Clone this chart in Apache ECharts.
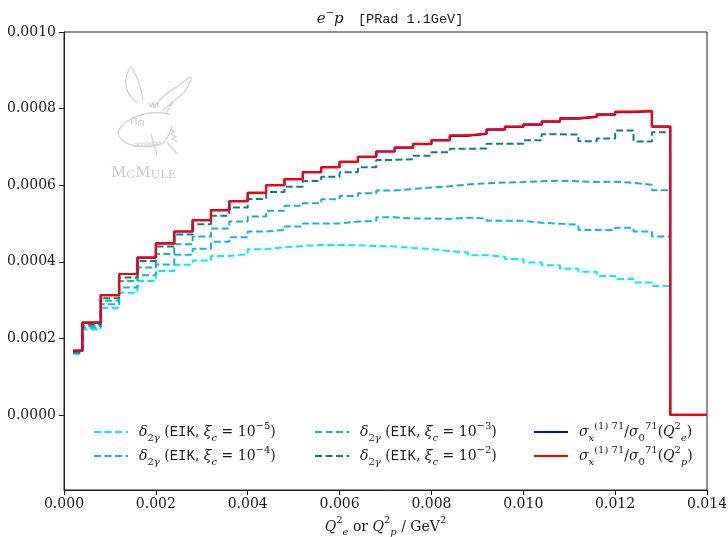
<!DOCTYPE html>
<html><head><meta charset="utf-8">
<script src="https://cdn.jsdelivr.net/npm/echarts@6/dist/echarts.min.js"></script>
<style>html,body{margin:0;padding:0;background:#fff}#c{width:728px;height:537px}</style>
</head><body><div id="c"></div>
<script>
// ---- data ----
const binEdges = [0.0002, 0.0004, 0.0008, 0.0012, 0.0016, 0.0020, 0.0024, 0.0028, 0.0032, 0.0036,
  0.0040, 0.0044, 0.0048, 0.0052, 0.0056, 0.0060, 0.0064, 0.0068, 0.0072, 0.0076,
  0.0080, 0.0084, 0.0088, 0.0092, 0.0096, 0.0100, 0.0104, 0.0108, 0.0112, 0.0116,
  0.0120, 0.0124, 0.0128, 0.0132];
const tailEdges = [0.0132, 0.0140];
const tailValues = [0];

const eik5 = [0.000160, 0.000223, 0.000279, 0.000319, 0.000350, 0.000376, 0.000392, 0.000403, 0.000415, 0.000420,
  0.000433, 0.000438, 0.000441, 0.000444, 0.000444, 0.000443, 0.000441, 0.000440, 0.000436, 0.000433,
  0.000428, 0.000424, 0.000417, 0.000413, 0.000407, 0.000398, 0.000391, 0.000382, 0.000374, 0.000363,
  0.000355, 0.000346, 0.000337];
const eik4 = [0.000161, 0.000228, 0.000289, 0.000333, 0.000365, 0.000393, 0.000418, 0.000434, 0.000452, 0.000464,
  0.000479, 0.000483, 0.000492, 0.000500, 0.000500, 0.000505, 0.000507, 0.000516, 0.000513, 0.000513,
  0.000512, 0.000515, 0.000513, 0.000507, 0.000507, 0.000502, 0.000499, 0.000497, 0.000483, 0.000483,
  0.000489, 0.000479, 0.000466];
const eik3 = [0.000162, 0.000232, 0.000298, 0.000350, 0.000385, 0.000420, 0.000446, 0.000466, 0.000487, 0.000505,
  0.000518, 0.000533, 0.000546, 0.000553, 0.000563, 0.000572, 0.000579, 0.000586, 0.000590, 0.000594,
  0.000597, 0.000602, 0.000605, 0.000607, 0.000608, 0.000610, 0.000612, 0.000610, 0.000608, 0.000609,
  0.000606, 0.000601, 0.000587];
const eik2 = [0.000164, 0.000236, 0.000305, 0.000359, 0.000402, 0.000440, 0.000471, 0.000498, 0.000520, 0.000542,
  0.000564, 0.000582, 0.000596, 0.000611, 0.000622, 0.000634, 0.000647, 0.000666, 0.000668, 0.000677,
  0.000686, 0.000695, 0.000696, 0.000708, 0.000708, 0.000717, 0.000733, 0.000732, 0.000715, 0.000722,
  0.000743, 0.000714, 0.000738];
const sigmaQe = [0.000168, 0.000241, 0.000313, 0.000368, 0.000411, 0.000448, 0.000479, 0.000509, 0.000535, 0.000558,
  0.000580, 0.000600, 0.000616, 0.000634, 0.000647, 0.000661, 0.000674, 0.000688, 0.000698, 0.000707,
  0.000717, 0.000729, 0.000734, 0.000745, 0.000752, 0.000758, 0.000766, 0.000774, 0.000778, 0.000784,
  0.000791, 0.000793, 0.000753];
const sigmaQp = [0.000168, 0.000241, 0.000313, 0.000368, 0.000411, 0.000448, 0.000479, 0.000509, 0.000535, 0.000558,
  0.000580, 0.000600, 0.000616, 0.000634, 0.000647, 0.000661, 0.000674, 0.000688, 0.000698, 0.000708,
  0.000718, 0.000730, 0.000735, 0.000746, 0.000753, 0.000759, 0.000767, 0.000775, 0.000779, 0.000785,
  0.000792, 0.000794, 0.000753];

const xTicks = [0, 0.002, 0.004, 0.006, 0.008, 0.010, 0.012, 0.014];
const yTicks = [0, 0.0002, 0.0004, 0.0006, 0.0008, 0.0010];

// ---- helpers ----
function stepPoints(edges, vals) {
  const p = vals.map((v, i) => [edges[i], v]);
  p.push([edges[edges.length - 1], vals[vals.length - 1]]);
  return p;
}
const serif = 'DejaVu Serif';
const mono = 'Liberation Mono';
const TXT = '#1a1a1a';

function dashed(name, vals, color) {
  return {
    name, type: 'line', step: 'end', data: stepPoints(binEdges, vals), symbol: 'none',
    lineStyle: { color, width: 2, type: [7, 3.5] }, itemStyle: { color }, z: 2, silent: true
  };
}
function solid(name, vals, color, z) {
  return {
    name, type: 'line', step: 'end',
    data: stepPoints(binEdges.concat(tailEdges.slice(1)), vals.concat(tailValues)), symbol: 'none',
    lineStyle: { color, width: 2.2 }, itemStyle: { color }, z, silent: true
  };
}

const rich = {
  it: { fontFamily: serif, fontStyle: 'italic', fontSize: 14, lineHeight: 22, color: TXT },
  tt: { fontFamily: mono, fontSize: 14, lineHeight: 22, color: TXT },
  sub: { fontFamily: serif, fontSize: 10, lineHeight: 13, verticalAlign: 'bottom', color: TXT },
  subit: { fontFamily: serif, fontStyle: 'italic', fontSize: 10, lineHeight: 13, verticalAlign: 'bottom', color: TXT },
  sup: { fontFamily: serif, fontSize: 10, lineHeight: 13, verticalAlign: 'top', color: TXT }
};
const labels = {
  x5: '{it|δ}{sub|2}{subit|γ} ({tt|EIK}, {it|ξ}{subit|c} = 10{sup|−5})',
  x4: '{it|δ}{sub|2}{subit|γ} ({tt|EIK}, {it|ξ}{subit|c} = 10{sup|−4})',
  x3: '{it|δ}{sub|2}{subit|γ} ({tt|EIK}, {it|ξ}{subit|c} = 10{sup|−3})',
  x2: '{it|δ}{sub|2}{subit|γ} ({tt|EIK}, {it|ξ}{subit|c} = 10{sup|−2})',
  qe: '{it|σ}{subit|x}{sup|(1) 71}/{it|σ}{sub|0}{sup|71}({it|Q}{sup|2}{subit|e})',
  qp: '{it|σ}{subit|x}{sup|(1) 71}/{it|σ}{sub|0}{sup|71}({it|Q}{sup|2}{subit|p})'
};
function legendAt(left, names) {
  return {
    left, top: 416, orient: 'vertical', itemWidth: 34, itemHeight: 14, itemGap: 2,
    data: names, formatter: n => labels[n], selectedMode: false,
    itemStyle: { opacity: 0, borderWidth: 0 },
    textStyle: { fontFamily: serif, fontSize: 14, lineHeight: 22, color: TXT, rich, padding: [0, 0, 0, 6] }
  };
}

const logoColor = '#d2d2d2';
const logoLines = [
  [[131,66],[126,78],[128,92],[137,103]],
  [[131,66],[137,78],[141,90],[143,100]],
  [[153,108],[165,95],[178,86],[191,77],[185,91],[174,101],[162,111]],
  [[149,103],[151,107],[153,103],[155,107],[157,103],[158,107]],
  [[170,114],[150,113],[131,119],[119,130],[122,140],[136,146],[152,146],[164,142],[172,126]],
  [[132,124],[132,119],[136,119],[136,124]],
  [[139,126],[139,121],[143,121],[143,126]],
  [[170,129],[174,132],[171,134],[176,137],[172,139],[178,142]],
  [[151,134],[157,155]],
  [[167,142],[177,154]],
  [[166,113],[173,102]]
];
const graphics = logoLines.map(pts => ({
  type: 'polyline', shape: { points: pts, smooth: pts.length > 3 && pts.length !== 6 ? 0.4 : 0 }, silent: true, z: 1,
  style: { fill: null, stroke: logoColor, lineWidth: 1.3 }
}));
for (let i = 0; i < 7; i++) {
  graphics.push({ type: 'circle', shape: { cx: 136 + i * 3.8, cy: 145 - i * 0.3, r: 1.5 }, silent: true, z: 1,
    style: { fill: null, stroke: logoColor, lineWidth: 1 } });
}
graphics.push({
  type: 'text', left: 111, top: 166, silent: true, z: 1,
  style: {
    text: '{b|M}{s|C}{b|M}{s|ULE}',
    rich: {
      b: { fontFamily: serif, fontSize: 15, fill: '#c9c9c9', verticalAlign: 'bottom', lineHeight: 18 },
      s: { fontFamily: serif, fontSize: 11.5, fill: '#c9c9c9', verticalAlign: 'bottom', lineHeight: 15 }
    }
  }
});

const chart = echarts.init(document.getElementById('c'), null, { renderer: 'canvas' });
chart.setOption({
  animation: false,
  backgroundColor: '#fff',
  title: {
    text: '{it|e}{sup|−}{it|p}   {tt|[PRad 1.1GeV]}',
    left: 385, top: 3, textAlign: 'center',
    textStyle: { fontFamily: serif, fontSize: 15, fontWeight: 'normal', color: TXT, lineHeight: 22,
      rich: {
        it: { fontFamily: serif, fontStyle: 'italic', fontWeight: 'normal', fontSize: 15, lineHeight: 22, color: TXT },
        sup: { fontFamily: serif, fontWeight: 'normal', fontSize: 10, lineHeight: 13, verticalAlign: 'top', color: TXT },
        tt: { fontFamily: mono, fontWeight: 'normal', fontSize: 13.5, lineHeight: 22, color: TXT }
      } }
  },
  grid: { left: 64, right: 21, top: 32, bottom: 47, show: true, borderColor: '#222', borderWidth: 1,
    backgroundColor: 'transparent', containLabel: false, outerBoundsMode: 'none' },
  xAxis: {
    type: 'value', min: 0, max: 0.014, interval: 0.002,
    axisLine: { show: true, onZero: false, lineStyle: { color: '#222', width: 1 } },
    axisTick: { show: true, length: 5, lineStyle: { color: '#222' } },
    axisLabel: { fontFamily: serif, fontSize: 14, color: TXT, margin: 7, formatter: v => v.toFixed(3) },
    splitLine: { show: false },
    name: '{it|Q}{sup|2}{subit|e} or {it|Q}{sup|2}{subit|p} / GeV{sup|2}',
    nameLocation: 'middle', nameGap: 23,
    nameTextStyle: { fontFamily: serif, fontSize: 14, color: TXT, lineHeight: 22, rich }
  },
  yAxis: {
    type: 'value', min: -0.000196, max: 0.001,
    axisLine: { show: true, onZero: false, lineStyle: { color: '#222', width: 1 } },
    axisTick: { show: true, length: 5, lineStyle: { color: '#222' }, customValues: yTicks },
    axisLabel: { fontFamily: serif, fontSize: 14, color: TXT, margin: 8, formatter: v => v.toFixed(4), customValues: yTicks },
    splitLine: { show: false }
  },
  legend: [legendAt(88, ['x5', 'x4']), legendAt(309, ['x3', 'x2']), legendAt(528, ['qe', 'qp'])],
  graphic: graphics,
  series: [
    dashed('x5', eik5, '#00f0f0'),
    dashed('x4', eik4, '#0fb4f5'),
    dashed('x3', eik3, '#20b2aa'),
    dashed('x2', eik2, '#0e8080'),
    solid('qe', sigmaQe, '#0000ff', 3),
    solid('qp', sigmaQp, '#ff0000', 4)
  ]
});
</script></body></html>
